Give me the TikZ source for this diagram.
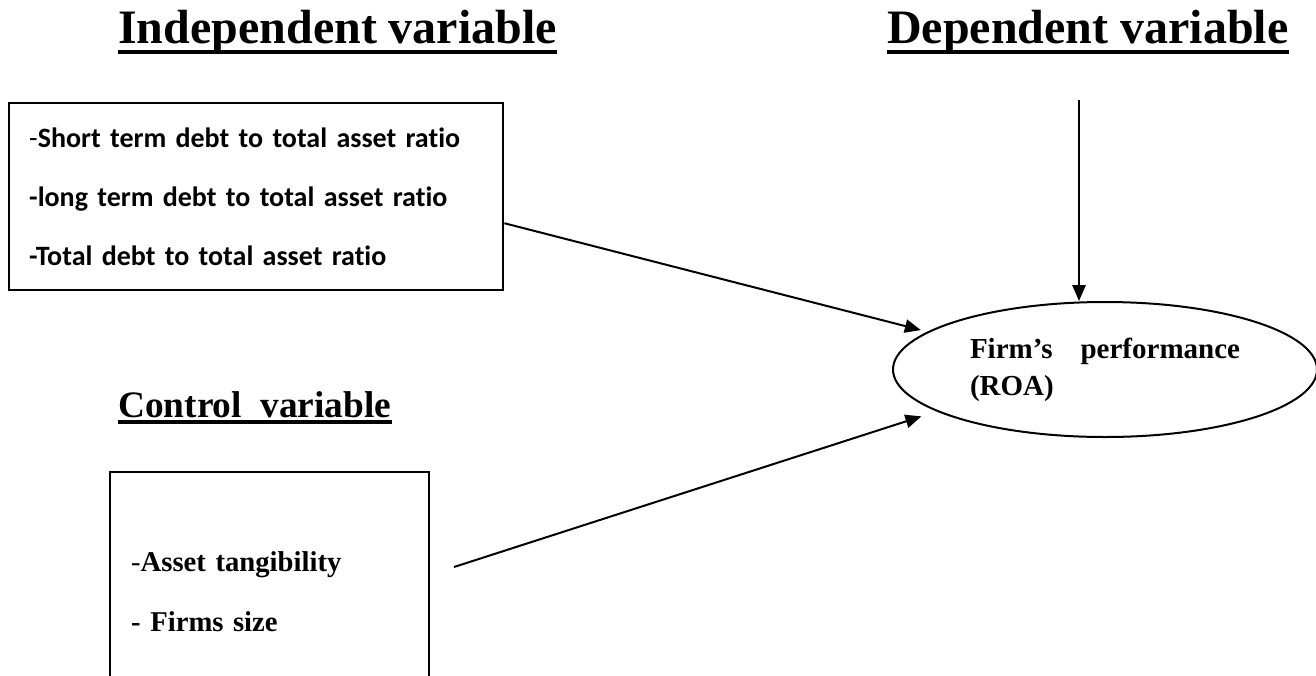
\documentclass[tikz,border=0pt]{standalone}
\usepackage{fontspec}
\setmainfont{Liberation Serif}
\newfontfamily\calibri[Ligatures=NoCommon]{Carlito}
\usetikzlibrary{arrows.meta,shapes}
\tikzset{>={Triangle[width=10pt,length=12pt]}}
\tikzset{
  head/.style={inner sep=0pt, font=\bfseries\fontsize{36}{40}\selectfont},
  uline/.style={line width=3pt},
  box/.style={draw, line width=1.8pt, align=left, inner ysep=0pt},
  oval/.style={draw, ellipse, line width=1.5pt, align=left, inner sep=0pt},
  conn/.style={->, line width=1.5pt},
}

\begin{document}
\begin{tikzpicture}[x=0.75pt, y=-0.75pt]

  \newcommand\PX{0.75pt}

  \useasboundingbox (0,0) rectangle (1316,675);
  \clip (0,0) rectangle (1316,675);

  % headings
  \node[head, anchor=base west] (hind) at (118,43) {Independent variable};
  \node[head, anchor=base west] (hdep) at (887,43) {Dependent variable};
  \node[head, anchor=base west, font=\bfseries\fontsize{28}{32}\selectfont] (hctl) at (118,417) {Control\ \ variable};

  \draw[uline] ([yshift=-6.4pt]hind.base west) -- ([yshift=-6.4pt]hind.base east);
  \draw[uline] ([yshift=-6.4pt]hdep.base west) -- ([yshift=-6.4pt]hdep.base east);
  \draw[uline] ([yshift=-4pt]hctl.base west) -- ([yshift=-4pt]hctl.base east);

  % boxes
  \node[box, anchor=north west, minimum width=494*\PX, minimum height=187*\PX,
    text width=454*\PX, inner xsep=20*\PX,
    font=\calibri\bfseries\fontsize{21}{44}\selectfont] (ind) at (8,102)
    {{\mdseries -}Short term debt to total asset ratio\\-long term debt to total asset ratio\\-Total debt to total asset ratio};

  \node[box, anchor=north west, minimum width=319*\PX, minimum height=239*\PX,
    text width=277*\PX, inner xsep=21*\PX,
    font=\bfseries\fontsize{21.5}{45}\selectfont] (ctl) at (109,471)
    {{\mdseries -}Asset tangibility\\- Firms size};

  \node[oval, minimum width=424*\PX, minimum height=135*\PX, text width=270*\PX,
    font=\bfseries\fontsize{21.75}{27.75}\selectfont] (perf) at (1105,369.5)
    {Firm’s\hfill performance\\(ROA)};

  % arrows
  \coordinate (dtop) at (1079,100);
  \coordinate (cstart) at (454,567);

  \draw[conn] (dtop) -- (dtop |- perf.north);
  \draw[conn, shorten >=5pt] ([yshift=-19.9pt]ind.east) -- (perf.168);
  \draw[conn, shorten >=12pt] (cstart) -- (perf.194);

\end{tikzpicture}
\end{document}
